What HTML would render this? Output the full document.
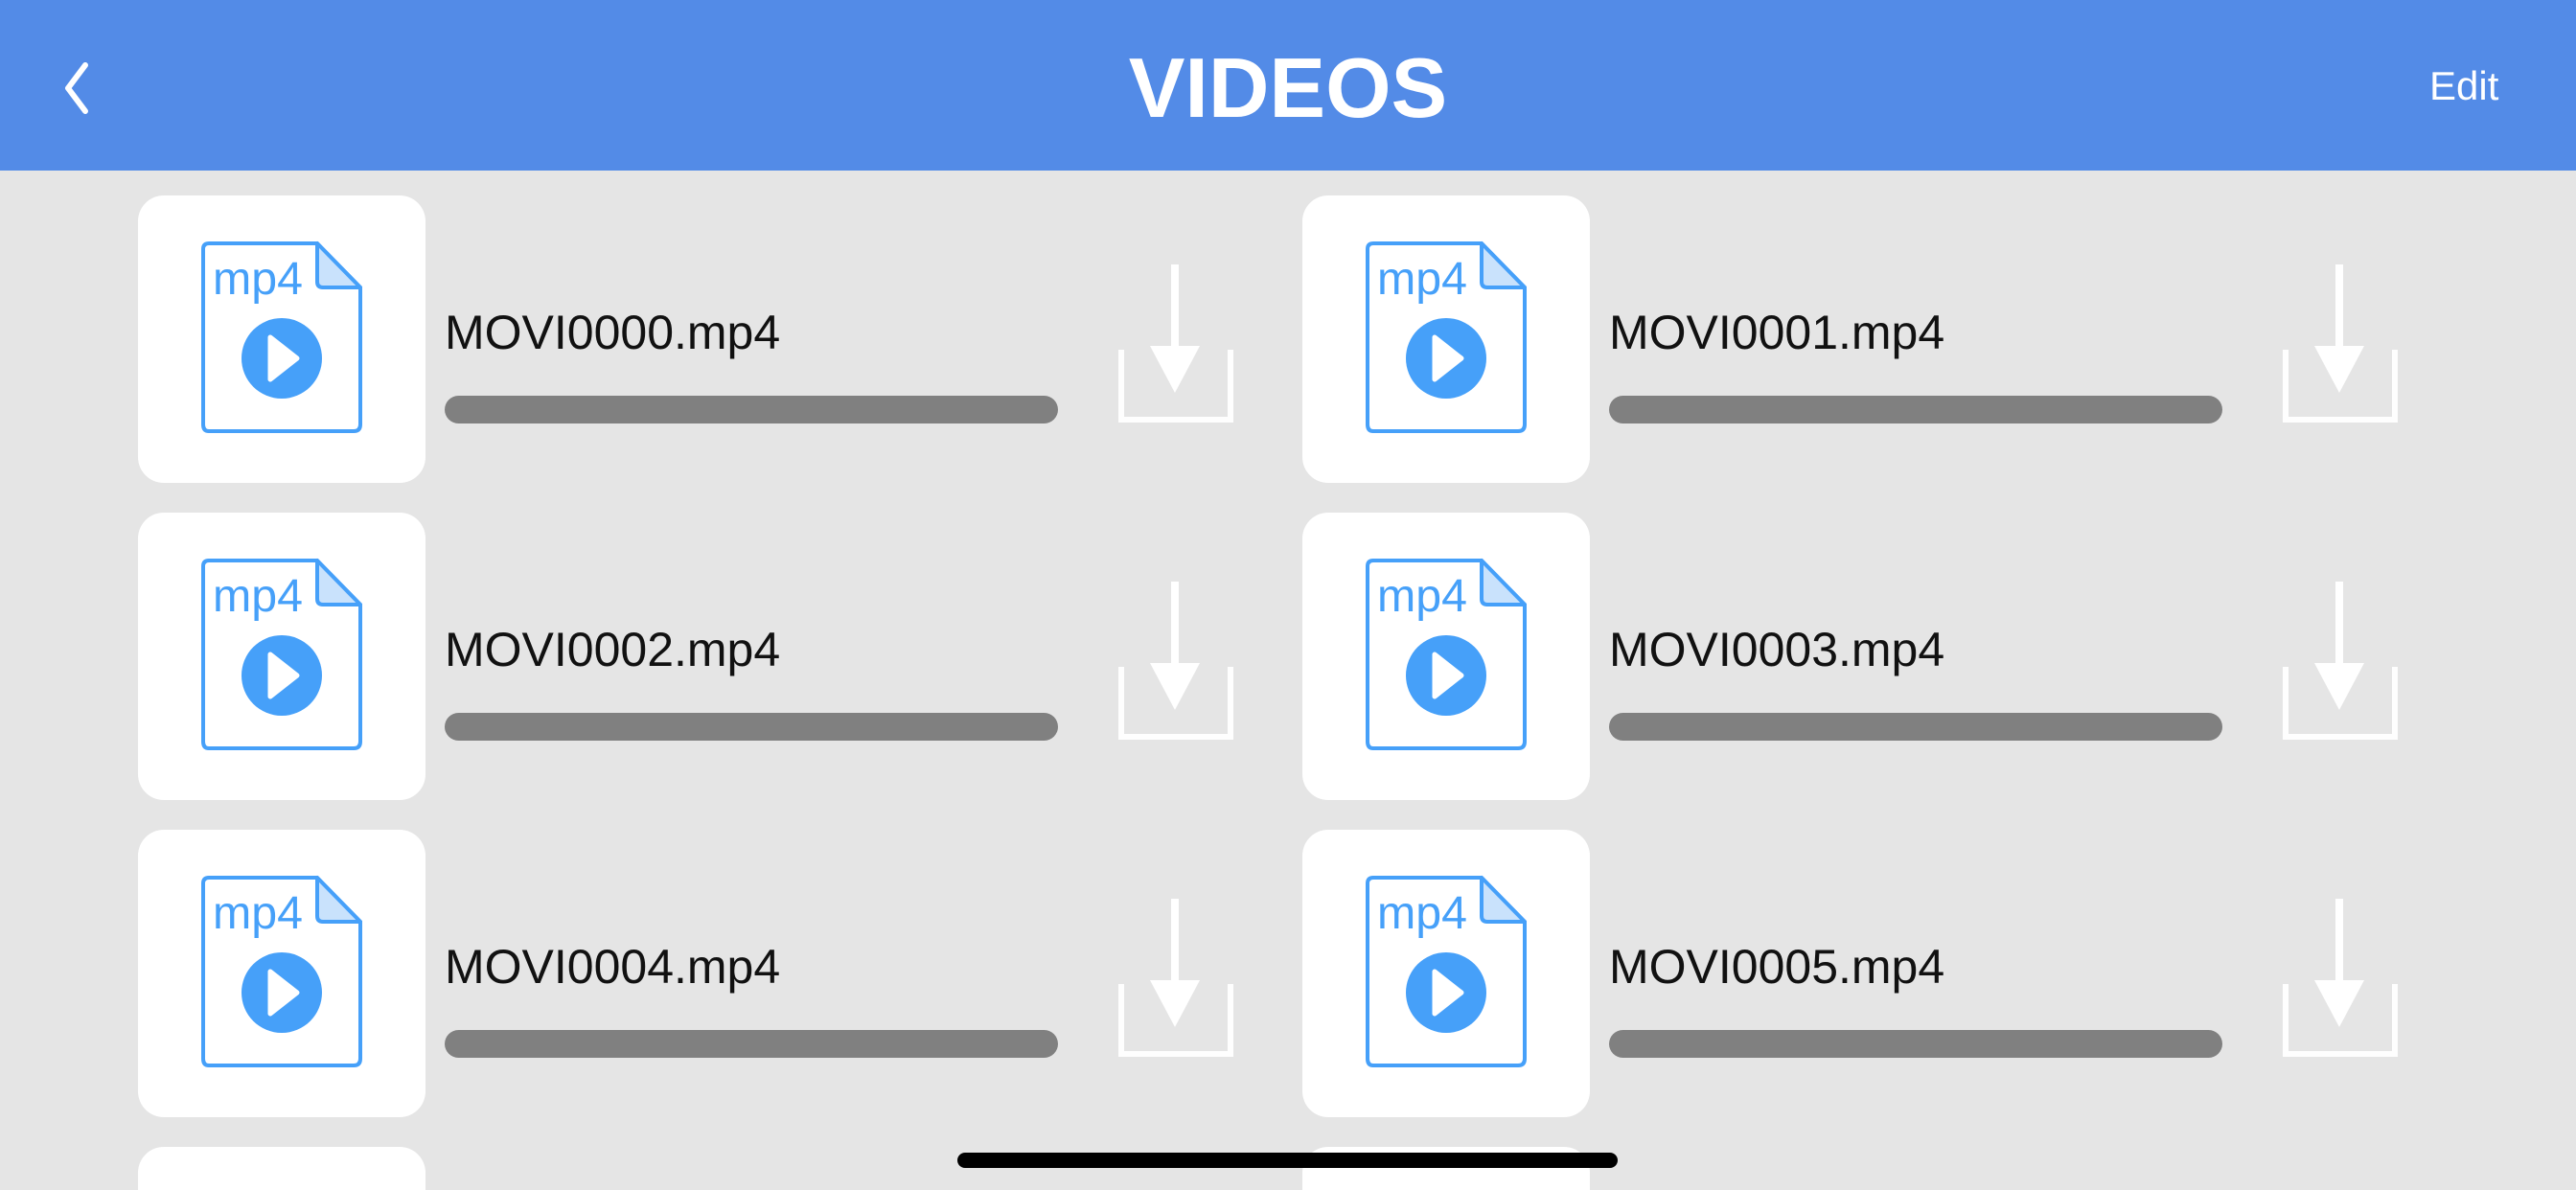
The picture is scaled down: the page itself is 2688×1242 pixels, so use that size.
<!DOCTYPE html>
<html style="width:2688px;height:1242px;overflow:hidden"><head><style>
body{margin:0;width:2688px;height:1242px;overflow:hidden;background:#e5e5e5;position:relative;font-family:"Liberation Sans",sans-serif}
.hdr{position:absolute;left:0;top:0;width:2688px;height:178px;background:#538be7}
.title{position:absolute;left:0;width:2688px;top:40px;text-align:center;color:#fff;font-weight:bold;font-size:88px;line-height:104px}
.edit{position:absolute;left:2535px;top:66px;color:#fff;font-size:42px;line-height:48px}
.card{position:absolute;width:300px;height:300px;background:#fff;border-radius:27px}
.name{position:absolute;font-size:50px;line-height:58px;color:#111}
.bar{position:absolute;width:640px;height:29px;background:#808080;border-radius:15px}
svg{position:absolute}
</style></head><body>
<div class="hdr"></div>
<svg style="left:55px;top:60px" width="50" height="60"><polyline points="34,8 16,32 34,56" fill="none" stroke="#fff" stroke-width="6" stroke-linecap="round" stroke-linejoin="round"/></svg>
<div class="title">VIDEOS</div>
<div class="edit">Edit</div>

<div id="c"></div>
<script>
var h='';var names=['MOVI0000.mp4','MOVI0001.mp4','MOVI0002.mp4','MOVI0003.mp4','MOVI0004.mp4','MOVI0005.mp4'];
for(var r=0;r<4;r++)for(var c=0;c<2;c++){
var x=144+c*1215,y=204+r*331,i=r*2+c;
if(r==3){h+='<div class="card" style="left:'+x+'px;top:'+y+'px;height:47px;border-radius:27px 27px 0 0"></div>';continue;}
h+='<div class="card" style="left:'+x+'px;top:'+y+'px"></div>';
h+='<svg style="left:'+(x+62)+'px;top:'+(y+46)+'px" width="180" height="210">'+
'<path d="M6,10 Q6,4 12,4 L125,4 L170,50 L170,193 Q170,200 163,200 L12,200 Q6,200 6,193 Z" fill="#fff" stroke="#46a0f9" stroke-width="4"/>'+
'<path d="M125,4 L125,44 Q125,50 131,50 L170,50 Z" fill="#c9e2fc" stroke="#46a0f9" stroke-width="4" stroke-linejoin="round"/>'+
'<text x="16" y="57" font-family="Liberation Sans, sans-serif" font-size="48" fill="#46a0f9" textLength="94" lengthAdjust="spacingAndGlyphs">mp4</text>'+
'<circle cx="88" cy="124" r="42" fill="#46a0f9"/>'+
'<path d="M76,102 L104,124 L76,146 Z" fill="#fff" stroke="#fff" stroke-width="5" stroke-linejoin="round"/></svg>';
h+='<div class="name" style="left:'+(x+320)+'px;top:'+(y+114)+'px">'+names[i]+'</div>';
h+='<div class="bar" style="left:'+(x+320)+'px;top:'+(y+209)+'px"></div>';
h+='<svg style="left:'+(x+1023)+'px;top:'+(y+72)+'px" width="120" height="165">'+
'<rect x="55" y="0" width="8" height="95" fill="#fff"/>'+
'<path d="M33,85 L85,85 L59,134 Z" fill="#fff"/>'+
'<path d="M3,89 L3,162 L117,162 L117,89" fill="none" stroke="#fff" stroke-width="6" opacity="0.95"/></svg>';
}
document.getElementById('c').innerHTML=h;
</script>
<div style="position:absolute;left:999px;top:1203px;width:689px;height:16px;border-radius:8px;background:#000"></div>
</body></html>
